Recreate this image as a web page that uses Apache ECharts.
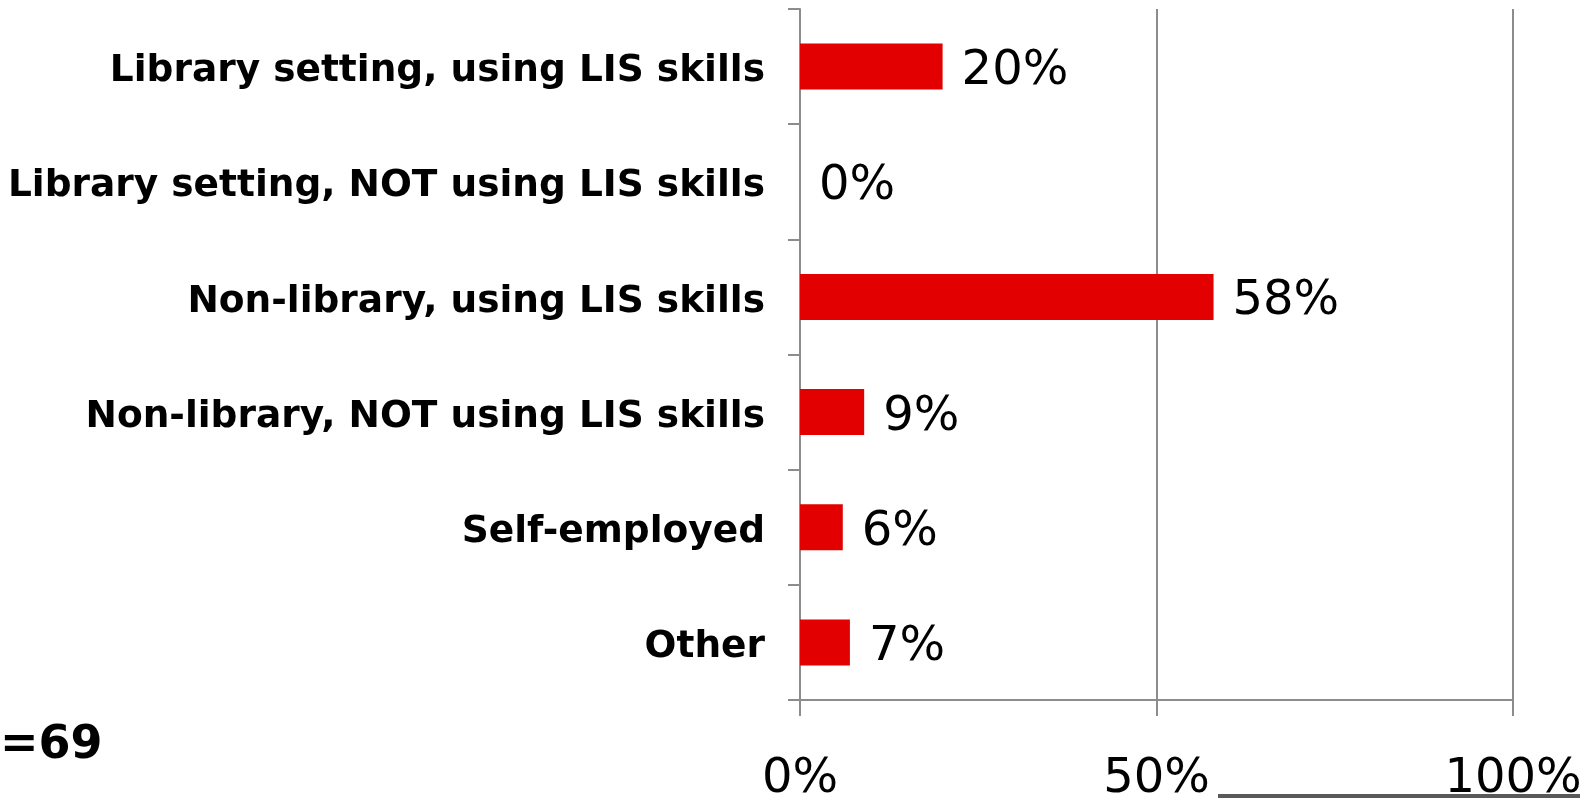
<!DOCTYPE html>
<html>
<head>
<meta charset="utf-8">
<script src="https://cdn.jsdelivr.net/npm/echarts@6/dist/echarts.min.js"></script>
<style>
  html, body { margin: 0; padding: 0; background: #fff; }
  #chart { width: 1594px; height: 800px; }
</style>
</head>
<body>
<div id="chart"></div>
<script>
// 数据
const categories = [
  "Library setting, using LIS skills",
  "Library setting, NOT using LIS skills",
  "Non-library, using LIS skills",
  "Non-library, NOT using LIS skills",
  "Self-employed",
  "Other"
]
const shares = [20, 0, 58, 9, 6, 7]
const xTicks = [0, 50, 100]
const noteText = "=69"

const chart = echarts.init(document.getElementById("chart"), null, { renderer: "canvas" })

const axisGray = "#8c8c8c"

chart.setOption({
  animation: false,
  grid: { left: 800, right: 81, top: 9, bottom: 100, containLabel: false, outerBoundsMode: "none" },
  xAxis: {
    type: "value",
    min: xTicks[0],
    max: xTicks[xTicks.length - 1],
    interval: xTicks[1] - xTicks[0],
    axisLine: { show: true, lineStyle: { color: axisGray, width: 2 } },
    axisTick: { show: true, length: 16, lineStyle: { color: axisGray, width: 2 } },
    splitLine: { show: true, lineStyle: { color: axisGray, width: 2 } },
    axisLabel: {
      formatter: "{value}%",
      fontFamily: "DejaVu Sans",
      fontSize: 48,
      color: "#000",
      margin: 56
    }
  },
  yAxis: {
    type: "category",
    data: categories,
    inverse: true,
    axisLine: { show: true, lineStyle: { color: axisGray, width: 2 } },
    axisTick: { show: true, length: 12, lineStyle: { color: axisGray, width: 2 } },
    axisLabel: {
      fontFamily: "DejaVu Sans",
      fontWeight: "bold",
      fontSize: 37.5,
      color: "#000",
      margin: 35,
      verticalAlign: "top",
      lineHeight: 10
    }
  },
  series: [{
    type: "bar",
    data: shares,
    barWidth: 46,
    itemStyle: { color: "#e20000" },
    label: {
      show: true,
      position: "right",
      distance: 19,
      offset: [0, 5],
      formatter: "{c}%",
      fontFamily: "DejaVu Sans",
      fontSize: 48,
      color: "#000"
    }
  }],
  graphic: [
    {
      type: "text",
      left: 0,
      top: 723,
      style: {
        text: noteText,
        fontFamily: "DejaVu Sans",
        fontWeight: "bold",
        fontSize: 46,
        fill: "#000"
      }
    },
    {
      type: "line",
      shape: { x1: 1218, y1: 796, x2: 1580, y2: 796 },
      style: { stroke: "#595959", lineWidth: 4 }
    }
  ]
})
</script>
</body>
</html>
